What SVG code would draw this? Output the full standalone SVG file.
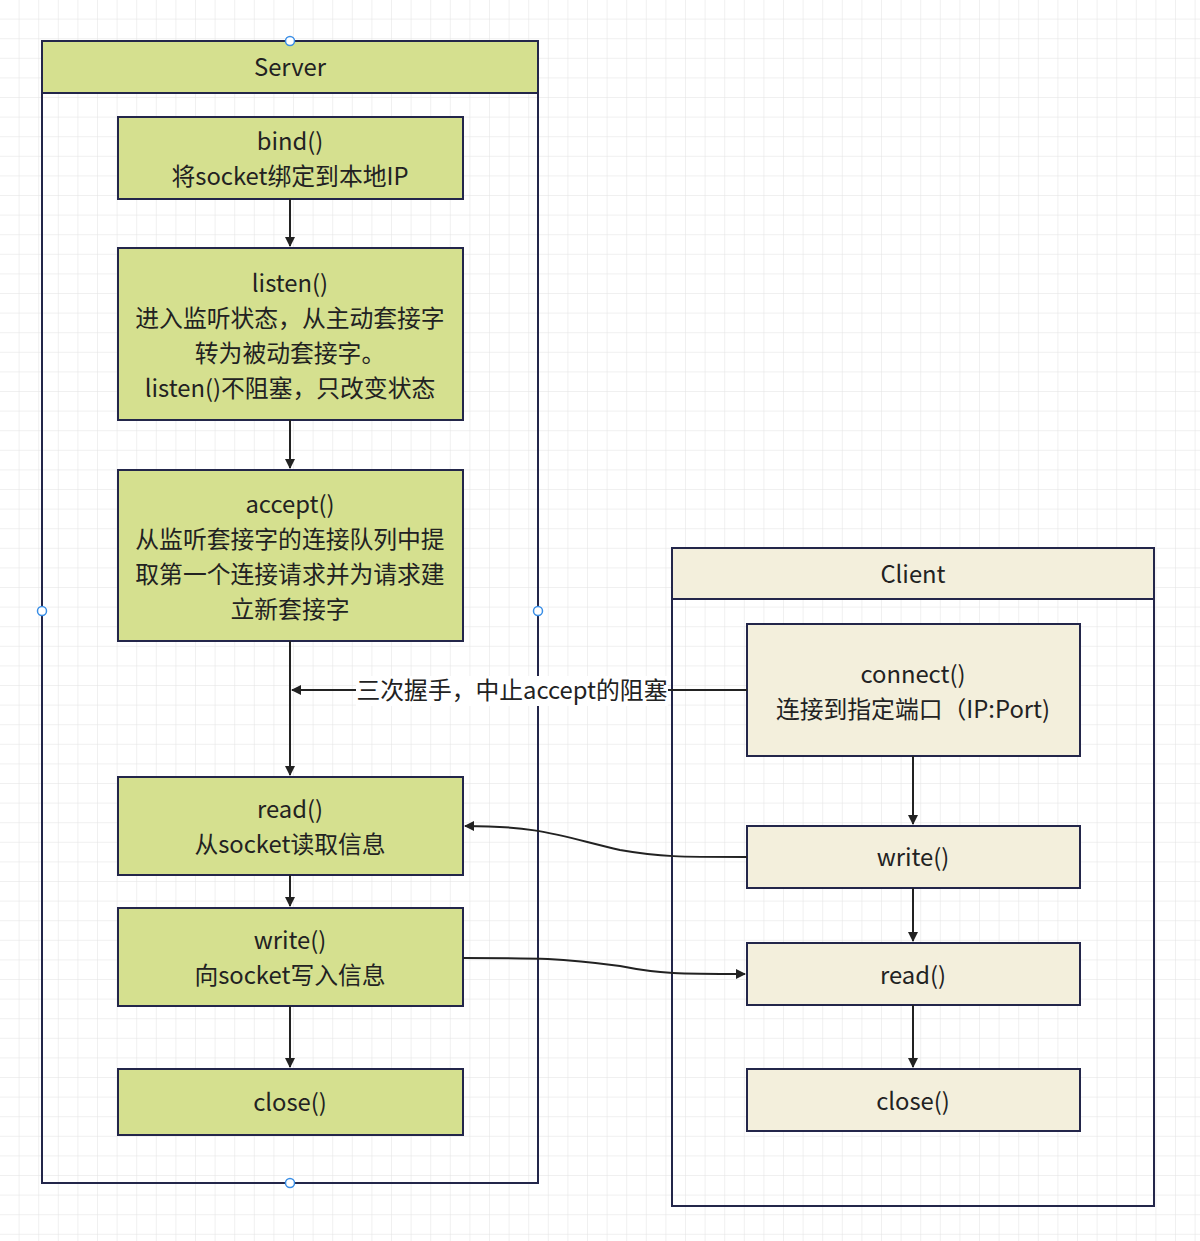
<svg xmlns="http://www.w3.org/2000/svg" width="1200" height="1241" viewBox="0 0 1200 1241">
<style>
text{font-family:"Noto Sans CJK SC","Noto Sans",sans-serif;font-size:23.8px;fill:#222;text-anchor:middle}
.g{fill:#d5e08f;stroke:#23264a;stroke-width:2}
.c{fill:#f3efdc;stroke:#23264a;stroke-width:2}
.lane{fill:none;stroke:#23264a;stroke-width:2}
.e{fill:none;stroke:#222;stroke-width:2}
.h{fill:#fff;stroke:#3a8ee6;stroke-width:1.5}
</style>
<defs>
<pattern id="grid" width="19.6" height="19.6" patternUnits="userSpaceOnUse">
<path d="M19.6 0V19.6H0" fill="none" stroke="#e2e2e2" stroke-width="1"/>
</pattern>
<marker id="a" markerWidth="10" markerHeight="10" refX="9" refY="5" orient="auto" markerUnits="userSpaceOnUse"><path d="M0 0L10 5L0 10Z" fill="#222"/></marker>
</defs>
<rect width="1200" height="1241" fill="#fff"/>
<rect width="1200" height="1241" fill="url(#grid)"/>
<g id="server">
<rect class="lane" x="42" y="41" width="496" height="1142"/>
<rect class="g" x="42" y="41" width="496" height="52"/>
<text x="290" y="76">Server</text>
</g>
<g id="client">
<rect class="lane" x="672" y="548" width="482" height="658"/>
<rect class="c" x="672" y="548" width="482" height="51"/>
<text x="913" y="583">Client</text>
</g>
<g id="bind"><rect class="g" x="118" y="117" width="345" height="82"/>
<text x="290" y="150">bind()</text><text x="290" y="185">将socket绑定到本地IP</text></g>
<g id="listen"><rect class="g" x="118" y="248" width="345" height="172"/>
<text x="290" y="292">listen()</text><text x="290" y="327">进入监听状态，从主动套接字</text><text x="290" y="362">转为被动套接字。</text><text x="290" y="397">listen()不阻塞，只改变状态</text></g>
<g id="accept"><rect class="g" x="118" y="470" width="345" height="171"/>
<text x="290" y="513">accept()</text><text x="290" y="548">从监听套接字的连接队列中提</text><text x="290" y="583">取第一个连接请求并为请求建</text><text x="290" y="618">立新套接字</text></g>
<g id="sread"><rect class="g" x="118" y="777" width="345" height="98"/>
<text x="290" y="818">read()</text><text x="290" y="853">从socket读取信息</text></g>
<g id="swrite"><rect class="g" x="118" y="908" width="345" height="98"/>
<text x="290" y="949">write()</text><text x="290" y="984">向socket写入信息</text></g>
<g id="sclose"><rect class="g" x="118" y="1069" width="345" height="66"/>
<text x="290" y="1111">close()</text></g>
<g id="connect"><rect class="c" x="747" y="624" width="333" height="132"/>
<text x="913" y="683">connect()</text><text x="913" y="718">连接到指定端口（IP:Port)</text></g>
<g id="cwrite"><rect class="c" x="747" y="826" width="333" height="62"/>
<text x="913" y="866">write()</text></g>
<g id="cread"><rect class="c" x="747" y="943" width="333" height="62"/>
<text x="913" y="984">read()</text></g>
<g id="cclose"><rect class="c" x="747" y="1069" width="333" height="62"/>
<text x="913" y="1110">close()</text></g>
<g id="edges">
<path class="e" d="M290 199V246" marker-end="url(#a)"/>
<path class="e" d="M290 420V468" marker-end="url(#a)"/>
<path class="e" d="M290 641V775" marker-end="url(#a)"/>
<path class="e" d="M290 875V906" marker-end="url(#a)"/>
<path class="e" d="M290 1006V1067" marker-end="url(#a)"/>
<path class="e" d="M913 756V824" marker-end="url(#a)"/>
<path class="e" d="M913 888V941" marker-end="url(#a)"/>
<path class="e" d="M913 1005V1067" marker-end="url(#a)"/>
<path class="e" d="M747 690H668M356 690H292" marker-end="url(#a)"/>
<rect x="356" y="676" width="312" height="30" fill="#fff"/>
<text x="512" y="699">三次握手，中止accept的阻塞</text>
<path class="e" d="M747 857C680 857 660 857 620 850C560 836 540 826 465 826" marker-end="url(#a)"/>
<path class="e" d="M463 958C540 958 560 958 620 966C660 974 680 974 745 974" marker-end="url(#a)"/>
</g>
<g id="handles">
<circle class="h" cx="290" cy="41" r="4.5"/><circle class="h" cx="42" cy="611" r="4.5"/>
<circle class="h" cx="538" cy="611" r="4.5"/><circle class="h" cx="290" cy="1183" r="4.5"/>
</g>
</svg>
